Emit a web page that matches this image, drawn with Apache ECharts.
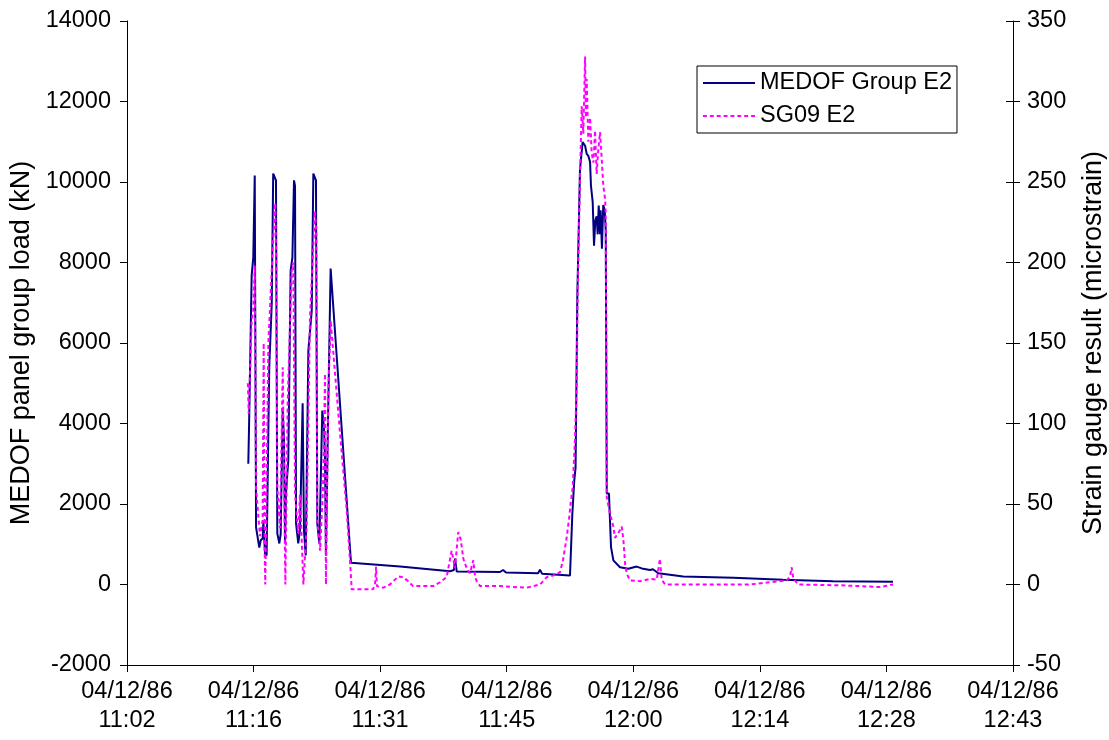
<!DOCTYPE html>
<html>
<head>
<meta charset="utf-8">
<script src="https://cdn.jsdelivr.net/npm/echarts@6/dist/echarts.min.js"></script>
<style>
html,body{margin:0;padding:0;background:#fff;}
#chart{width:1109px;height:740px;}
</style>
</head>
<body>
<div id="chart"></div>
<script>
// Times are minutes after midnight on 04/12/86
const medofTimes = [676.20,676.28,676.59,676.77,676.93,677.08,677.22,677.45,677.61,677.84,677.91,678.10,678.29,678.59,678.86,679.04,679.35,679.50,679.73,679.89,680.11,680.26,680.38,680.49,680.75,681.02,681.21,681.40,681.51,681.63,681.89,682.08,682.39,682.54,682.73,683.03,683.41,683.60,683.90,684.05,684.28,684.44,684.62,684.81,684.93,685.04,685.23,685.57,687.88,693.46,699.15,699.60,699.72,699.91,704.84,705.18,705.52,709.16,709.39,709.61,712.80,712.91,713.06,713.29,713.43,713.63,713.94,714.24,714.51,714.70,714.88,715.08,715.19,715.38,715.53,715.68,715.84,715.95,716.06,716.21,716.29,716.44,716.59,716.75,716.86,716.98,717.24,717.35,717.46,717.73,718.49,719.43,720.39,720.96,721.90,722.24,722.85,725.69,731.38,737.03,742.72,749.55];
const medofLoad = [3000,3900,7680,8120,10160,1420,1400,920,1100,1150,1590,770,720,5390,6980,10210,10040,1270,1020,1250,4320,3570,1020,2250,3080,7800,8120,10040,9900,1520,1020,1350,4500,1350,720,5810,6800,10210,10040,1520,1020,1020,4320,3900,3080,720,3570,7850,540,450,330,360,645,320,310,360,300,280,370,270,225,260,1760,2580,2900,7180,10300,10990,10900,10700,10650,10500,9910,9500,8420,9050,9150,8700,9415,8700,9300,8340,9430,9300,8800,2260,2260,1590,930,600,430,390,445,400,360,380,280,200,165,115,83,70];

const sgTimes = [676.15,676.25,676.59,676.77,676.93,677.08,677.34,677.53,677.84,677.95,678.07,678.14,678.25,678.48,678.86,679.04,679.27,679.39,679.50,679.81,680.11,680.41,680.68,681.14,681.32,681.51,681.89,682.08,682.46,682.84,683.22,683.79,683.94,684.05,684.36,684.70,684.93,685.04,685.30,685.57,686.63,687.40,687.77,687.96,690.39,690.62,690.73,690.84,691.56,692.32,693.27,693.84,694.40,694.94,697.25,698.01,698.77,699.34,699.72,700.09,700.36,700.66,701.05,701.42,701.80,702.00,702.19,702.56,704.84,707.87,709.39,710.15,710.87,711.66,712.00,712.42,712.72,712.88,713.10,713.36,713.56,713.67,713.94,714.13,714.31,714.51,714.62,714.70,714.88,715.08,715.27,715.46,715.65,715.84,716.02,716.21,716.40,716.59,716.78,716.86,716.98,717.35,717.73,717.92,718.30,718.69,718.87,719.06,719.26,719.63,720.77,721.90,722.66,723.04,723.23,723.61,727.59,733.28,737.45,737.83,738.02,738.20,738.74,743.52,745.79,748.07,749.55];
const sgStrain = [125,106,164,170,198,60,43,30,40,150,20,0,0,150,195,215,237,200,60,35,135,0,114,195,200,56,32,56,0,35,166,232,220,40,21,60,131,0,118,164,94,46,15,-3,-3,0,11,-1,-2,0,5,4.5,2,-1,-1,1.4,4.6,21,10,32.5,28,16,10,7,15,5,2,-1,-1,-2,0,4.5,5.5,7.6,15,29,42,51,60,90,125,180,252,297,280,328,290,314,275,290,268,262,282,255,270,281,265,248,240,230,54,44,36,29,32,36,28,13,6.6,2.5,2,3.5,3,16,3,0,0,0,2.5,5,10.7,4,0,-0.5,-1,-1.6,0];

const xTickStartMin = 662.4, xTickStepMin = 14.4, xTickEndMin = 763.2;
const leftTicks = {min: -2000, max: 14000, step: 2000};
const rightTicks = {min: -50, max: 350, step: 50};

const toSec = m => Math.round(m * 60);
const medofData = medofTimes.map((t, i) => [toSec(t), medofLoad[i]]);
const sgData = sgTimes.map((t, i) => [toSec(t), sgStrain[i]]);

function fmtTime(v) {
  const s = Math.round(v);
  const h = Math.floor(s / 3600);
  const m = Math.floor((s % 3600) / 60);
  return '04/12/86\n' + h + ':' + String(m).padStart(2, '0');
}

// legend icons: solid bar and dashed bar
let dashPath = 'path://';
for (let x = 0; x < 52; x += 7) dashPath += 'M' + x + ',0h4v2h-4z';

const FONT = 'Liberation Sans, Arial, sans-serif';
const FS = 23.5;
const TFS = 27;
const chart = echarts.init(document.getElementById('chart'), null, {renderer: 'canvas'});
chart.setOption({
  animation: false,
  backgroundColor: '#fff',
  textStyle: {fontFamily: FONT, color: '#000'},
  grid: {left: 127, right: 96, top: 21, bottom: 75, containLabel: false, outerBoundsMode: 'none'},
  legend: {
    orient: 'vertical', left: 697, top: 66,
    padding: [5, 5, 5, 6],
    borderColor: '#000', borderWidth: 1, borderRadius: 0,
    itemWidth: 52, itemHeight: 2, itemGap: 9,
    textStyle: {fontSize: FS, color: '#000', fontFamily: FONT},
    data: [
      {name: 'MEDOF Group E2', icon: 'rect', itemStyle: {color: '#000080'}},
      {name: 'SG09 E2', icon: dashPath, itemStyle: {color: '#FF00FF'}}
    ]
  },
  xAxis: {
    type: 'value',
    min: toSec(xTickStartMin), max: toSec(xTickEndMin), interval: toSec(xTickStepMin),
    axisLine: {show: true, onZero: false, lineStyle: {color: '#000', width: 1}},
    axisTick: {show: true, inside: false, length: 7, lineStyle: {color: '#000'}},
    axisLabel: {formatter: fmtTime, fontSize: FS, color: '#000', lineHeight: 29, margin: 12, fontFamily: FONT},
    splitLine: {show: false}
  },
  yAxis: [
    {
      type: 'value', position: 'left',
      min: leftTicks.min, max: leftTicks.max, interval: leftTicks.step,
      name: 'MEDOF panel group load (kN)', nameLocation: 'middle', nameRotate: 90, nameGap: 92,
      nameTextStyle: {fontSize: TFS, color: '#000', fontFamily: FONT},
      axisLine: {show: true, onZero: false, lineStyle: {color: '#000', width: 1}},
      axisTick: {show: true, inside: false, length: 7, lineStyle: {color: '#000'}},
      axisLabel: {fontSize: FS, color: '#000', margin: 16, fontFamily: FONT, formatter: v => String(v)},
      splitLine: {show: false}
    },
    {
      type: 'value', position: 'right',
      min: rightTicks.min, max: rightTicks.max, interval: rightTicks.step,
      name: 'Strain gauge result (microstrain)', nameLocation: 'middle', nameRotate: 90, nameGap: 67,
      nameTextStyle: {fontSize: TFS, color: '#000', fontFamily: FONT},
      axisLine: {show: true, onZero: false, lineStyle: {color: '#000', width: 1}},
      axisTick: {show: true, inside: false, length: 7, lineStyle: {color: '#000'}},
      axisLabel: {fontSize: FS, color: '#000', margin: 14, fontFamily: FONT, formatter: v => String(v)},
      splitLine: {show: false}
    },
    {
      type: 'value', position: 'right',
      min: rightTicks.min, max: rightTicks.max, interval: rightTicks.step,
      axisLine: {show: false},
      axisTick: {show: true, inside: true, length: 7, lineStyle: {color: '#000'}},
      axisLabel: {show: false},
      splitLine: {show: false}
    }
  ],
  series: [
    {
      name: 'MEDOF Group E2', type: 'line', yAxisIndex: 0,
      data: medofData, symbol: 'none', showSymbol: false,
      lineStyle: {color: '#000080', width: 2},
      itemStyle: {color: '#000080'}, z: 3
    },
    {
      name: 'SG09 E2', type: 'line', yAxisIndex: 1,
      data: sgData, symbol: 'none', showSymbol: false,
      lineStyle: {color: '#FF00FF', width: 2, type: [4, 3]},
      itemStyle: {color: '#FF00FF'}, z: 4
    }
  ]
});
</script>
</body>
</html>
